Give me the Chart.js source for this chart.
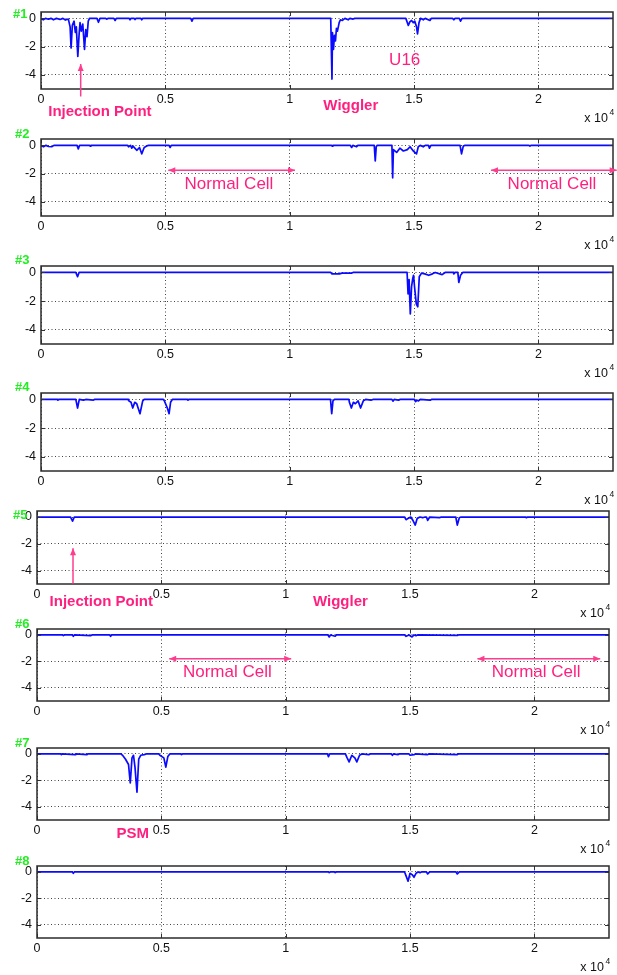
<!DOCTYPE html>
<html>
<head>
<meta charset="utf-8">
<script src="https://cdn.jsdelivr.net/npm/chart.js@4.4.1/dist/chart.umd.min.js"></script>
<style>
  html, body { margin: 0; padding: 0; background: #fff; }
  #wrap { position: relative; width: 617px; height: 975px; overflow: hidden; }
  #wrap canvas { position: absolute; left: 0; }
</style>
</head>
<body>
<div id="wrap"></div>
<script>
const xTicks = [0, 5000, 10000, 15000, 20000];
const xTickLabels = ["0", "0.5", "1", "1.5", "2"];
const yTicks = [-4, -2, 0];
const yTickLabels = ["-4", "-2", "0"];

// [position, orbit offset] pairs
const run1 = [[0,0],[90,-0.1],[180,0],[300,-0.06],[400,0],[500,-0.1],[620,0],[770,-0.08],[880,0],[980,-0.12],[1100,-0.05],
  [1170,-0.6],[1210,-2.1],[1260,-0.5],[1330,-0.2],[1380,-1.0],[1420,-0.6],[1480,-2.7],[1530,-1.2],[1570,-0.3],[1620,-0.9],
  [1680,-0.4],[1750,-2.2],[1800,-0.8],[1850,-1.3],[1900,-0.2],[1950,0],[2250,0],[2310,-0.28],[2370,0],[2600,0],[2640,-0.06],
  [2690,0],[2930,0],[2980,-0.15],[3030,0],[3550,0],[3580,-0.1],[3620,0],[3750,0],[3780,-0.08],[3820,0],[4020,0],[4050,-0.1],
  [4090,0],[6020,0],[6070,-0.2],[6120,0],[11650,0],[11700,-4.3],[11720,-1.0],[11760,-2.2],[11800,-1.2],[11840,-1.6],
  [11880,-0.7],[11920,-0.9],[11990,-0.3],[12040,-0.1],[12120,-0.15],[12220,0],[12350,-0.1],[12420,0],[12550,-0.05],[12620,0],
  [14670,0],[14770,-0.5],[14830,-0.25],[14900,-0.15],[14970,-0.3],[15030,-0.2],[15100,-0.6],[15140,-1.1],[15200,-0.3],
  [15260,0],[15370,-0.1],[15450,0],[15640,-0.15],[15700,0],[16550,0],[16600,-0.1],[16650,0],[16820,0],[16870,-0.2],
  [16930,0],[23000,0]];
const run2 = [[0,0],[100,-0.1],[200,0],[300,-0.08],[430,-0.1],[520,0],[1450,0],[1500,-0.25],[1550,0],[1950,0],[1980,-0.05],
  [2010,0],[3480,0],[3520,-0.1],[3600,0],[3650,-0.2],[3700,-0.05],[3850,-0.35],[3960,-0.15],[4050,-0.6],[4150,-0.15],
  [4250,-0.05],[4320,0],[5150,0],[5190,-0.15],[5240,0],[11680,0],[11710,-0.05],[11740,0],[12440,0],[12490,-0.15],[12540,0],
  [12690,-0.1],[12740,0],[13400,0],[13440,-1.1],[13480,-0.1],[13520,0],[14110,0],[14140,-2.3],[14170,-0.3],[14300,-0.5],
  [14430,-0.2],[14570,-0.4],[14730,-0.3],[14840,-0.1],[14970,-0.4],[15100,-0.6],[15170,-0.1],[15250,0],[15370,-0.1],
  [15450,0],[15580,0],[15620,-0.2],[15680,0],[16850,0],[16910,-0.6],[16980,-0.05],[17050,0],[19620,0],[19660,-0.05],
  [19700,0],[23000,0]];
const run3 = [[0,0],[1400,0],[1470,-0.3],[1530,0],[11650,0],[11700,-0.1],[12000,-0.1],[12100,-0.05],[12480,-0.05],[12550,0],
  [14720,0],[14760,-1.5],[14800,-0.5],[14850,-2.9],[14900,-1.0],[14950,-0.4],[14980,-0.2],[15020,-1.0],[15090,-2.2],
  [15150,-2.4],[15210,-0.3],[15300,-0.05],[15430,-0.1],[15590,-0.2],[15740,-0.1],[15850,0],[16130,-0.15],[16250,0],
  [16580,0],[16600,-0.1],[16650,0],[16760,0],[16800,-0.7],[16870,-0.2],[16960,0],[23000,0]];
const run4 = [[0,0],[650,0],[680,-0.05],[720,0],[1400,0],[1470,-0.6],[1540,0],[1710,-0.05],[1800,0],[2110,-0.05],[2150,0],
  [3500,0],[3530,-0.1],[3620,-0.2],[3690,-0.6],[3770,-0.2],[3850,-0.3],[3980,-1.0],[4090,-0.1],[4150,0],[4920,0],
  [4960,-0.1],[5080,-0.6],[5150,-1.0],[5210,-0.2],[5280,0],[5880,0],[5910,-0.05],[5950,0],[11640,0],[11690,-1.0],
  [11740,-0.1],[11800,0],[12380,0],[12400,-0.2],[12480,-0.6],[12560,-0.2],[12640,-0.3],[12750,-0.1],[12850,-0.6],
  [12960,-0.1],[13050,0],[13270,-0.05],[13350,0],[14110,0],[14150,-0.12],[14200,0],[14380,-0.05],[14430,0],[15020,0],
  [15060,-0.15],[15120,-0.05],[15180,-0.1],[15250,0],[15650,-0.05],[15700,0],[23000,0]];
const run5 = [[0,0],[1350,0],[1430,-0.3],[1500,0],[14780,0],[14840,-0.2],[14920,-0.1],[15030,0],[15130,-0.3],[15210,-0.6],
  [15290,-0.1],[15400,0],[15510,-0.05],[15600,0],[15660,0],[15710,-0.25],[15790,0],[16190,-0.05],[16250,0],[16840,0],
  [16900,-0.6],[16980,-0.05],[17050,0],[19640,0],[19680,-0.05],[19720,0],[23000,0]];
const run6 = [[0,0],[1030,0],[1060,-0.05],[1100,0],[1420,0],[1460,-0.1],[1500,0],[2170,-0.05],[2210,0],[2920,0],[2960,-0.1],
  [3000,0],[11700,0],[11750,-0.15],[11800,0],[11990,-0.1],[12040,0],[14780,0],[14840,-0.1],[14960,0],[15080,-0.15],
  [15160,0],[15240,-0.05],[15300,0],[16900,-0.03],[16950,0],[23000,0]];
const run7 = [[0,0],[950,0],[980,-0.05],[1010,0],[1530,-0.05],[1560,0],[2010,-0.05],[2040,0],[3380,0],[3440,-0.1],
  [3560,-0.4],[3680,-0.8],[3750,-2.2],[3820,-0.3],[3880,-0.1],[3940,-1.0],[4020,-2.9],[4090,-0.4],[4170,-0.1],[4310,-0.05],
  [4400,0],[4900,0],[4940,-0.1],[5100,-0.3],[5180,-1.0],[5260,-0.2],[5340,0],[5780,0],[5810,-0.05],[5850,0],[11680,0],
  [11720,-0.2],[11770,0],[12400,0],[12470,-0.3],[12550,-0.6],[12660,-0.1],[12780,-0.3],[12860,-0.6],[12970,-0.1],
  [13060,0],[13340,-0.05],[13400,0],[14250,0],[14290,-0.1],[14330,0],[14520,-0.05],[14560,0],[14960,0],[15000,-0.1],
  [15160,-0.05],[15220,0],[15710,-0.05],[15750,0],[16900,-0.05],[16940,0],[23000,0]];
const run8 = [[0,0],[1420,0],[1460,-0.1],[1500,0],[11720,0],[11750,-0.05],[11790,0],[11960,0],[11990,-0.05],[12030,0],
  [14780,0],[14840,-0.3],[14920,-0.7],[15000,-0.1],[15080,-0.2],[15160,-0.4],[15240,-0.1],[15320,0],[15400,-0.05],
  [15460,0],[15660,0],[15710,-0.15],[15790,0],[16850,0],[16900,-0.15],[16980,0],[23000,0]];

const PINK = "#ff1f7f";
const FONT = "'Liberation Sans', Arial, Helvetica, sans-serif";

const panels = [
  { tag: "#1", run: run1, box: [41, 12, 613, 89], tagAt: [13, 14], notes: [
    { text: "Injection Point", x: 2370, y: -6.6, bold: true },
    { arrow: [1596, -5.53, 1596, -3.23], both: false },
    { text: "Wiggler", x: 12457, y: -6.2, bold: true },
    { text: "U16", x: 14624, y: -3.0 } ] },
  { tag: "#2", run: run2, box: [41, 139, 613, 216], tagAt: [15, 134], notes: [
    { arrow: [5119, -1.77, 10213, -1.77], both: true },
    { text: "Normal Cell", x: 7559, y: -2.79 },
    { arrow: [18095, -1.77, 23149, -1.77], both: true },
    { text: "Normal Cell", x: 20547, y: -2.79 } ] },
  { tag: "#3", run: run3, box: [41, 266, 613, 344], tagAt: [15, 260], notes: [] },
  { tag: "#4", run: run4, box: [41, 393, 613, 471], tagAt: [15, 387], notes: [] },
  { tag: "#5", run: run5, box: [37, 511, 609, 584], tagAt: [13, 515], notes: [
    { arrow: [1448, -4.96, 1448, -2.33], both: false },
    { text: "Injection Point", x: 2585, y: -6.32, bold: true },
    { text: "Wiggler", x: 12199, y: -6.37, bold: true } ] },
  { tag: "#6", run: run6, box: [37, 629, 609, 701], tagAt: [15, 624], notes: [
    { arrow: [5316, -1.81, 10222, -1.81], both: true },
    { text: "Normal Cell", x: 7652, y: -2.82 },
    { arrow: [17709, -1.81, 22647, -1.81], both: true },
    { text: "Normal Cell", x: 20073, y: -2.82 } ] },
  { tag: "#7", run: run7, box: [37, 748, 609, 820], tagAt: [15, 743], notes: [
    { text: "PSM", x: 3852, y: -6.06, bold: true } ] },
  { tag: "#8", run: run8, box: [37, 866, 609, 938], tagAt: [15, 861], notes: [] }
];

function head(ctx, x1, y1, x2, y2) {
  const ang = Math.atan2(y2 - y1, x2 - x1);
  ctx.beginPath();
  ctx.moveTo(x2, y2);
  ctx.lineTo(x2 - 7 * Math.cos(ang) + 3 * Math.sin(ang), y2 - 7 * Math.sin(ang) - 3 * Math.cos(ang));
  ctx.lineTo(x2 - 7 * Math.cos(ang) - 3 * Math.sin(ang), y2 - 7 * Math.sin(ang) + 3 * Math.cos(ang));
  ctx.closePath();
  ctx.fill();
}

const decor = {
  id: "decor",
  afterDatasetsDraw(chart, args, opts) {
    const { ctx, chartArea: a, scales: { x, y } } = chart;
    const p = opts.panel;
    ctx.save();

    // inward tick marks
    ctx.strokeStyle = "#333";
    ctx.lineWidth = 1;
    ctx.beginPath();
    xTicks.forEach(v => {
      const px = Math.round(x.getPixelForValue(v)) + 0.5;
      ctx.moveTo(px, a.top); ctx.lineTo(px, a.top + 4);
      ctx.moveTo(px, a.bottom); ctx.lineTo(px, a.bottom - 4);
    });
    yTicks.forEach(v => {
      const py = Math.round(y.getPixelForValue(v)) + 0.5;
      ctx.moveTo(a.left, py); ctx.lineTo(a.left + 4, py);
      ctx.moveTo(a.right, py); ctx.lineTo(a.right - 4, py);
    });
    ctx.stroke();

    ctx.lineWidth = 1.5;
    ctx.strokeStyle = "#2b2b2b";
    ctx.strokeRect(a.left, a.top, a.right - a.left, a.bottom - a.top);

    // panel number
    ctx.fillStyle = "#22ee22";
    ctx.font = "bold 13px " + FONT;
    ctx.textAlign = "left";
    ctx.textBaseline = "middle";
    ctx.fillText(p.tag, p.tagAt[0], p.tagAt[1] - opts.top);

    // x 10^4
    ctx.fillStyle = "#111";
    ctx.font = "12.5px " + FONT;
    ctx.textAlign = "right";
    ctx.fillText("x 10", a.right - 5, a.bottom + 30);
    ctx.font = "8.5px " + FONT;
    ctx.textAlign = "left";
    ctx.fillText("4", a.right - 3.5, a.bottom + 24);

    // annotations
    p.notes.forEach(n => {
      if (n.arrow) {
        const x1 = x.getPixelForValue(n.arrow[0]), y1 = y.getPixelForValue(n.arrow[1]);
        const x2 = x.getPixelForValue(n.arrow[2]), y2 = y.getPixelForValue(n.arrow[3]);
        ctx.strokeStyle = "#ff3d8e";
        ctx.fillStyle = "#ff3d8e";
        ctx.lineWidth = 1.5;
        ctx.beginPath();
        ctx.moveTo(x1, y1); ctx.lineTo(x2, y2);
        ctx.stroke();
        head(ctx, x1, y1, x2, y2);
        if (n.both) head(ctx, x2, y2, x1, y1);
      } else {
        ctx.fillStyle = PINK;
        ctx.font = n.bold ? "bold 15px " + FONT : "17px " + FONT;
        ctx.textAlign = "center";
        ctx.textBaseline = "middle";
        ctx.fillText(n.text, x.getPixelForValue(n.x), y.getPixelForValue(n.y));
      }
    });
    ctx.restore();
  }
};

const wrap = document.getElementById("wrap");

panels.forEach(p => {
  const [l, t, r, b] = p.box;
  const top = t - 16;
  const h = b - top + 46;
  const cv = document.createElement("canvas");
  cv.width = 617;
  cv.height = h;
  cv.style.top = top + "px";
  cv.style.width = "617px";
  cv.style.height = h + "px";
  wrap.appendChild(cv);

  new Chart(cv, {
    type: "line",
    data: {
      datasets: [{
        data: p.run.map(d => ({ x: d[0], y: d[1] })),
        borderColor: "#0a0aff",
        borderWidth: 1.7,
        borderJoinStyle: "round",
        pointRadius: 0,
        tension: 0,
        fill: false
      }]
    },
    options: {
      responsive: false,
      animation: false,
      devicePixelRatio: 1,
      events: [],
      layout: { padding: { top: t - top, right: 617 - r, left: 0, bottom: 0 } },
      plugins: {
        legend: { display: false },
        tooltip: { enabled: false },
        decor: { panel: p, top: top }
      },
      scales: {
        x: {
          type: "linear",
          min: 0,
          max: 23000,
          afterBuildTicks: s => { s.ticks = xTicks.map(v => ({ value: v })); },
          afterFit: s => { s.height = h - (b - top); },
          ticks: {
            autoSkip: false,
            maxRotation: 0,
            padding: 3,
            color: "#111",
            font: { family: FONT, size: 12.5 },
            callback: (v, i) => xTickLabels[i]
          },
          grid: { color: "#444", lineWidth: 1, drawTicks: false },
          border: { display: false, dash: [1, 2.5] }
        },
        y: {
          min: -5,
          max: 0.45,
          afterBuildTicks: s => { s.ticks = yTicks.map(v => ({ value: v })); },
          afterFit: s => { s.width = l; },
          ticks: {
            padding: 5,
            color: "#111",
            font: { family: FONT, size: 12.5 },
            callback: (v, i) => yTickLabels[i]
          },
          grid: { color: "#444", lineWidth: 1, drawTicks: false },
          border: { display: false, dash: [1, 2.5] }
        }
      }
    },
    plugins: [decor]
  });
});
</script>
</body>
</html>
